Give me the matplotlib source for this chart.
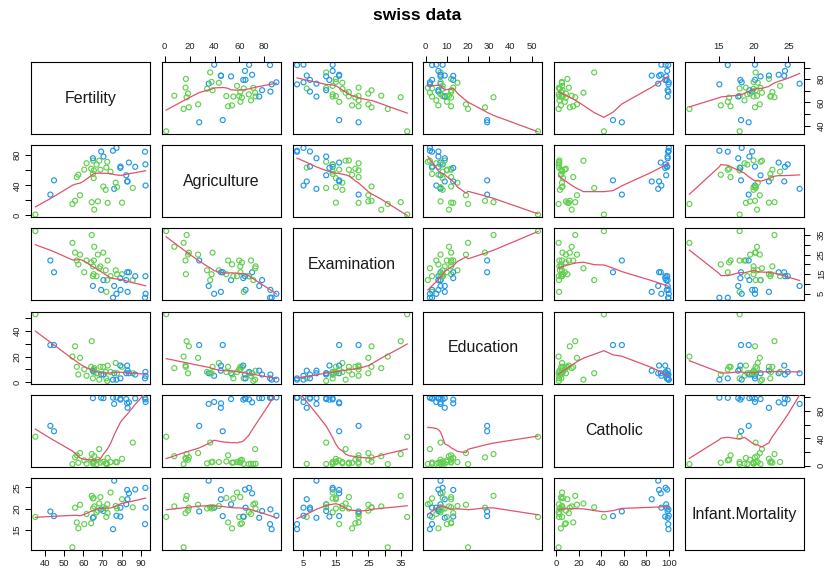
import numpy as np
import matplotlib
matplotlib.use('Agg')
import matplotlib.pyplot as plt

plt.rcParams['font.family'] = ['Liberation Sans', 'DejaVu Sans']

# ---- swiss data ----
variables = ['Fertility', 'Agriculture', 'Examination', 'Education', 'Catholic', 'Infant.Mortality']
fertility = [80.2, 83.1, 92.5, 85.8, 76.9, 76.1, 83.8, 92.4, 82.4, 82.9, 87.1, 64.1, 66.9, 68.9,
             61.7, 68.3, 71.7, 55.7, 54.3, 65.1, 65.5, 65.0, 56.6, 57.4, 72.5, 74.2, 72.0, 60.5,
             58.3, 65.4, 75.5, 69.3, 77.3, 70.5, 79.4, 65.0, 92.2, 79.3, 70.4, 65.7, 72.7, 64.4,
             77.6, 67.6, 35.0, 44.7, 42.8]
agriculture = [17.0, 45.1, 39.7, 36.5, 43.5, 35.3, 70.2, 67.8, 53.3, 45.2, 64.5, 62.0, 67.5, 60.7,
               69.3, 72.6, 34.0, 19.4, 15.2, 73.0, 59.8, 55.1, 50.9, 54.1, 71.2, 58.1, 63.5, 60.8,
               26.8, 49.5, 85.9, 84.9, 89.7, 78.2, 64.9, 75.9, 84.6, 63.1, 38.4, 7.7, 16.7, 17.6,
               37.6, 18.7, 1.2, 46.6, 27.7]
examination = [15, 6, 5, 12, 17, 9, 16, 14, 12, 16, 14, 21, 14, 19, 22, 18, 17, 26, 31, 19, 22, 14,
               22, 20, 12, 14, 6, 16, 25, 15, 3, 7, 5, 12, 7, 9, 3, 13, 26, 29, 22, 35, 15, 25, 37,
               16, 22]
education = [12, 9, 5, 7, 15, 7, 7, 8, 7, 13, 6, 12, 7, 12, 5, 2, 8, 28, 20, 9, 10, 3, 12, 6, 1, 8,
             3, 10, 19, 8, 2, 6, 2, 6, 3, 9, 3, 13, 12, 11, 13, 32, 7, 7, 53, 29, 29]
catholic = [9.96, 84.84, 93.40, 33.77, 5.16, 90.57, 92.85, 97.16, 97.67, 91.38, 98.61, 8.52, 2.27,
            4.43, 2.82, 24.20, 3.30, 12.11, 2.15, 2.84, 5.23, 4.52, 15.14, 4.20, 2.40, 5.23, 2.56,
            7.72, 18.46, 6.10, 99.71, 99.68, 100.00, 98.96, 98.22, 99.06, 99.46, 96.83, 5.62,
            13.79, 11.22, 16.92, 4.97, 8.65, 42.34, 50.43, 58.33]
infant_mortality = [22.2, 22.2, 20.2, 20.3, 20.6, 26.6, 23.6, 24.9, 21.0, 24.4, 24.5, 16.5, 19.1,
                    22.7, 18.7, 21.2, 20.0, 20.2, 10.8, 20.0, 18.0, 22.4, 16.7, 15.3, 21.0, 23.8,
                    18.0, 16.3, 20.9, 22.5, 15.1, 19.8, 18.3, 19.4, 20.2, 17.8, 16.3, 18.1, 20.3,
                    20.5, 18.9, 23.0, 20.0, 19.5, 18.0, 18.2, 19.3]

# tick positions and which ones carry labels (horizontal / vertical axes)
ticks_at = {
    'Fertility': [40, 50, 60, 70, 80, 90],
    'Agriculture': [0, 20, 40, 60, 80],
    'Examination': [5, 10, 15, 20, 25, 30, 35],
    'Education': [0, 10, 20, 30, 40, 50],
    'Catholic': [0, 20, 40, 60, 80, 100],
    'Infant.Mortality': [15, 20, 25],
}
labels_h = {
    'Fertility': [40, 50, 60, 70, 80, 90],
    'Agriculture': [0, 20, 40, 60, 80],
    'Examination': [5, 15, 25, 35],
    'Education': [0, 10, 20, 30, 40, 50],
    'Catholic': [0, 20, 40, 60, 80, 100],
    'Infant.Mortality': [15, 20, 25],
}
labels_v = {
    'Fertility': [40, 60, 80],
    'Agriculture': [0, 40, 80],
    'Examination': [5, 15, 25, 35],
    'Education': [0, 20, 40],
    'Catholic': [0, 40, 80],
    'Infant.Mortality': [15, 20, 25],
}

data = {
    'Fertility': np.array(fertility, float),
    'Agriculture': np.array(agriculture, float),
    'Examination': np.array(examination, float),
    'Education': np.array(education, float),
    'Catholic': np.array(catholic, float),
    'Infant.Mortality': np.array(infant_mortality, float),
}

BLUE, GREEN, RED = '#2297E6', '#61D04F', '#DF536B'
point_colors = [BLUE if c > 50 else GREEN for c in catholic]


def r_lowess(x, y, f=2/3, nsteps=3):
    """Port of R's clowess."""
    x = np.asarray(x, float); y = np.asarray(y, float)
    o = np.argsort(x, kind='stable')
    xs_ = x[o]; ys_ = y[o]
    n = len(x)
    delta = 0.01 * (xs_[-1] - xs_[0])
    X = np.concatenate([[0.], xs_]); Y = np.concatenate([[0.], ys_])
    YS = np.zeros(n + 1)
    rw = np.ones(n + 1)
    ns = max(2, min(n, int(f * n + 1e-7)))

    def lowest(xv, nleft, nright, userw):
        rng = X[n] - X[1]
        h = max(xv - X[nleft], X[nright] - xv)
        h9 = .999 * h; h1 = .001 * h
        w = np.zeros(n + 1)
        a = 0.
        j = nleft
        while j <= n:
            r = abs(X[j] - xv)
            if r <= h9:
                if r <= h1:
                    w[j] = 1.
                else:
                    w[j] = (1 - (r / h) ** 3) ** 3
                if userw:
                    w[j] *= rw[j]
                a += w[j]
            elif X[j] > xv:
                break
            j += 1
        nrt = j - 1
        if a <= 0:
            return None
        sl = slice(nleft, nrt + 1)
        w[sl] /= a
        if h > 0:
            a = np.sum(w[sl] * X[sl])
            b = xv - a
            c = np.sum(w[sl] * (X[sl] - a) ** 2)
            if np.sqrt(c) > .001 * rng:
                b /= c
                w[sl] *= (b * (X[sl] - a) + 1.)
        return np.sum(w[sl] * Y[sl])

    it = 1
    while it <= nsteps + 1:
        nleft = 1; nright = ns; last = 0; i = 1
        while True:
            if nright < n:
                d1 = X[i] - X[nleft]; d2 = X[nright + 1] - X[i]
                if d1 > d2:
                    nleft += 1; nright += 1
                    continue
            v = lowest(X[i], nleft, nright, it > 1)
            YS[i] = Y[i] if v is None else v
            if last < i - 1:
                denom = X[i] - X[last]
                for j in range(last + 1, i):
                    alpha = (X[j] - X[last]) / denom
                    YS[j] = alpha * YS[i] + (1 - alpha) * YS[last]
            last = i
            cut = X[last] + delta
            i = last + 1
            while i <= n:
                if X[i] > cut:
                    break
                if X[i] == X[last]:
                    YS[i] = YS[last]; last = i
                i += 1
            i = max(last + 1, i - 1)
            if last >= n:
                break
        res = Y[1:] - YS[1:]
        sc = np.mean(np.abs(res))
        if it > nsteps:
            break
        ar = np.abs(res)
        srt = np.sort(ar)
        m1 = n // 2
        if n % 2 == 0:
            cmad = 3 * (srt[m1] + srt[n - m1 - 1])
        else:
            cmad = 6 * srt[m1]
        if cmad < 1e-7 * sc:
            break
        c9 = .999 * cmad; c1 = .001 * cmad
        rw[1:] = np.where(ar <= c1, 1., np.where(ar <= c9, (1 - (ar / cmad) ** 2) ** 2, 0.))
        it += 1
    return xs_, YS[1:]


def lims(v):
    lo, hi = v.min(), v.max()
    d = 0.04 * (hi - lo)
    return lo - d, hi + d


W, H = 828, 572
fig = plt.figure(figsize=(W / 100, H / 100), dpi=100)

col_left = [31 + j * 130.8 for j in range(6)]
row_top = [62 + i * 83.2 for i in range(6)]
pw, ph = 119, 72
nv = len(variables)

tick_kw = dict(length=4.3, width=0.75, labelsize=6.8, colors='black', labelcolor='#222222')

for i, vy in enumerate(variables):
    for j, vx in enumerate(variables):
        ax = fig.add_axes([col_left[j] / W, 1 - (row_top[i] + ph) / H, pw / W, ph / H])
        for s in ax.spines.values():
            s.set_linewidth(0.8)
        ax.set_xlim(*lims(data[vx]))
        ax.set_ylim(*lims(data[vy]))
        ax.set_xticks([]); ax.set_yticks([])
        if i == j:
            ax.text(0.5, 0.5, vx, transform=ax.transAxes, ha='center', va='center',
                    fontsize=11.5, color='#1a1a1a')
        else:
            xv, yv = data[vx], data[vy]
            ax.scatter(xv, yv, s=13, facecolors='none', edgecolors=point_colors,
                       linewidths=0.85, zorder=2)
            lx, ly = r_lowess(xv, yv)
            ax.plot(lx, ly, color=RED, lw=0.9, zorder=3)
        r, c = i + 1, j + 1
        if r == 1 and c % 2 == 0:
            ax.xaxis.set_ticks_position('top')
            ax.set_xticks(ticks_at[vx])
            ax.set_xticklabels([str(t) if t in labels_h[vx] else '' for t in ticks_at[vx]])
            ax.tick_params(axis='x', top=True, bottom=False, labeltop=True, labelbottom=False,
                           pad=3.7, **tick_kw)
        if r == nv and c % 2 == 1:
            ax.xaxis.set_ticks_position('bottom')
            ax.set_xticks(ticks_at[vx])
            ax.set_xticklabels([str(t) if t in labels_h[vx] else '' for t in ticks_at[vx]])
            ax.tick_params(axis='x', pad=2.1, **tick_kw)
        if c == 1 and r % 2 == 0:
            ax.set_yticks(ticks_at[vy])
            ax.set_yticklabels([str(t) if t in labels_v[vy] else '' for t in ticks_at[vy]],
                               rotation=90, va='center')
            ax.tick_params(axis='y', pad=2.5, **tick_kw)
        if c == nv and r % 2 == 1:
            ax.yaxis.set_ticks_position('right')
            ax.set_yticks(ticks_at[vy])
            ax.set_yticklabels([str(t) if t in labels_v[vy] else '' for t in ticks_at[vy]],
                               rotation=90, va='center')
            ax.tick_params(axis='y', right=True, left=False, labelright=True, labelleft=False,
                           pad=5.0, **tick_kw)

fig.text((31 + 804) / 2 / W, 1 - 15 / H, 'swiss data', ha='center', va='center',
         fontsize=12.5, fontweight='bold')

fig.savefig('out.png', dpi=100)
